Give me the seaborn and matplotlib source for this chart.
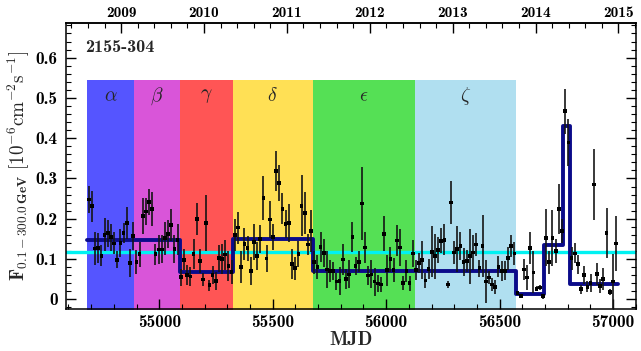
import matplotlib
matplotlib.use('Agg')
import matplotlib.pyplot as plt
import seaborn as sns
import numpy as np
import pandas as pd
from matplotlib.ticker import MultipleLocator, FuncFormatter

# ---------------- data ----------------
mjd = [54689, 54703, 54717, 54731, 54745, 54759, 54773, 54787, 54801, 54815,
       54829, 54843, 54857, 54871, 54885, 54899, 54913, 54927, 54941, 54955,
       54969, 54983, 54997, 55011, 55025, 55039, 55053, 55067, 55081, 55095,
       55109, 55123, 55137, 55151, 55165, 55179, 55193, 55207, 55221, 55235,
       55249, 55263, 55277, 55291, 55305, 55319, 55333, 55347, 55361, 55375,
       55389, 55403, 55417, 55431, 55445, 55459, 55473, 55487, 55501, 55515,
       55529, 55543, 55557, 55571, 55585, 55599, 55613, 55627, 55641, 55655,
       55669, 55683, 55697, 55711, 55725, 55739, 55753, 55767, 55781, 55795,
       55809, 55823, 55837, 55851, 55865, 55879, 55893, 55907, 55921, 55935,
       55949, 55963, 55977, 55991, 56005, 56019, 56033, 56047, 56061, 56075,
       56089, 56103, 56117, 56131, 56145, 56159, 56173, 56187, 56201, 56215,
       56229, 56243, 56257, 56271, 56285, 56299, 56313, 56327, 56341, 56355,
       56369, 56383, 56397, 56411, 56425, 56439, 56453, 56467, 56481, 56495,
       56509, 56523, 56537, 56551, 56565, 56579, 56593, 56607, 56621, 56635,
       56649, 56663, 56677, 56691, 56705, 56719, 56733, 56747, 56761, 56775,
       56789, 56803, 56817, 56831, 56845, 56859, 56873, 56887, 56901, 56915,
       56929, 56943, 56957, 56971, 56985, 56999, 57013]

flux = [0.248, 0.231, 0.126, 0.127, 0.108, 0.160, 0.164, 0.154, 0.139, 0.098,
        0.140, 0.165, 0.190, 0.090, 0.157, 0.092, 0.112, 0.207, 0.218, 0.242,
        0.225, 0.112, 0.124, 0.124, 0.152, 0.163, 0.185, 0.125, 0.148, 0.055,
        0.098, 0.060, 0.057, 0.113, 0.199, 0.095, 0.049, 0.189, 0.035, 0.060,
        0.046, 0.102, 0.100, 0.111, 0.083, 0.068, 0.160, 0.178, 0.080, 0.138,
        0.127, 0.070, 0.143, 0.108, 0.150, 0.251, 0.101, 0.198, 0.154, 0.318,
        0.289, 0.225, 0.187, 0.190, 0.088, 0.077, 0.113, 0.232, 0.215, 0.136,
        0.170, 0.092, 0.081, 0.130, 0.115, 0.074, 0.070, 0.070, 0.044, 0.045,
        0.099, 0.050, 0.062, 0.155, 0.083, 0.093, 0.238, 0.129, 0.059, 0.062,
        0.044, 0.039, 0.037, 0.163, 0.072, 0.100, 0.073, 0.146, 0.129, 0.040,
        0.070, 0.040, 0.114, 0.073, 0.091, 0.098, 0.047, 0.075, 0.118, 0.107,
        0.122, 0.145, 0.148, 0.037, 0.240, 0.116, 0.125, 0.132, 0.092, 0.095,
        0.107, 0.116, 0.136, 0.077, 0.133, 0.044, 0.054, 0.037, 0.031, 0.081,
        0.070, 0.071, 0.102, 0.133, 0.114, 0.016, 0.009, 0.074, 0.054, 0.127,
        0.067, 0.026, 0.029, 0.008, 0.153, 0.092, 0.153, 0.120, 0.224, 0.170,
        0.467, 0.389, 0.102, 0.114, 0.087, 0.025, 0.060, 0.031, 0.040, 0.285,
        0.063, 0.033, 0.050, 0.164, 0.018, 0.044, 0.139]

flux_err = [0.034, 0.039, 0.040, 0.037, 0.026, 0.041, 0.033, 0.033, 0.027, 0.021,
            0.035, 0.025, 0.040, 0.034, 0.034, 0.030, 0.031, 0.045, 0.034, 0.033,
            0.042, 0.026, 0.036, 0.035, 0.041, 0.035, 0.040, 0.035, 0.038, 0.021,
            0.026, 0.025, 0.023, 0.038, 0.039, 0.029, 0.017, 0.069, 0.014, 0.023,
            0.023, 0.033, 0.038, 0.037, 0.037, 0.030, 0.040, 0.040, 0.040, 0.040,
            0.031, 0.035, 0.045, 0.035, 0.035, 0.054, 0.033, 0.045, 0.032, 0.050,
            0.045, 0.039, 0.035, 0.047, 0.037, 0.029, 0.033, 0.076, 0.052, 0.027,
            0.053, 0.029, 0.030, 0.037, 0.035, 0.045, 0.027, 0.023, 0.021, 0.035,
            0.038, 0.025, 0.035, 0.038, 0.023, 0.026, 0.091, 0.038, 0.023, 0.035,
            0.035, 0.021, 0.019, 0.044, 0.039, 0.031, 0.029, 0.039, 0.046, 0.017,
            0.027, 0.019, 0.033, 0.025, 0.025, 0.048, 0.019, 0.025, 0.063, 0.056,
            0.033, 0.031, 0.039, 0.008, 0.054, 0.028, 0.056, 0.034, 0.035, 0.027,
            0.068, 0.043, 0.029, 0.021, 0.077, 0.054, 0.017, 0.017, 0.017, 0.026,
            0.025, 0.024, 0.028, 0.027, 0.029, 0.005, 0.004, 0.026, 0.031, 0.040,
            0.052, 0.006, 0.007, 0.006, 0.071, 0.029, 0.070, 0.031, 0.062, 0.029,
            0.056, 0.058, 0.029, 0.025, 0.023, 0.011, 0.023, 0.014, 0.023, 0.089,
            0.027, 0.017, 0.027, 0.062, 0.008, 0.068, 0.069]

# Bayesian-block style step light curve
step_edges = [54682, 55091, 55323, 55676, 56571, 56696, 56780, 56808, 57020]
step_levels = [0.148, 0.069, 0.151, 0.071, 0.014, 0.135, 0.430, 0.038]

mean_flux = 0.118

period_labels = [r'$\alpha$', r'$\beta$', r'$\gamma$', r'$\delta$', r'$\epsilon$', r'$\zeta$']
period_edges = [54682, 54889, 55091, 55323, 55676, 56126, 56571]
period_colors = ['#5555ff', '#d955d9', '#ff5555', '#ffe055', '#55e055', '#b0dff0']
band_top = 0.545

source_name = '2155-304'

# ---------------- style ----------------
sns.set_style('ticks')
plt.rcParams['font.family'] = ['cmb10', 'DejaVu Serif']
plt.rcParams['mathtext.fontset'] = 'cm'
plt.rcParams['axes.unicode_minus'] = False
plt.rcParams['axes.edgecolor'] = 'black'
plt.rcParams['xtick.color'] = 'black'
plt.rcParams['ytick.color'] = 'black'

fig = plt.figure(figsize=(6.41, 3.51), dpi=100)
ax = fig.add_axes([66 / 641, 1 - 309 / 351, 570 / 641, 286 / 351])

xlo, xhi = 54589, 57101
ylo, yhi = -0.024, 0.686
ax.set_xlim(xlo, xhi)
ax.set_ylim(ylo, yhi)

# coloured periods
for i, lab in enumerate(period_labels):
    x0, x1 = period_edges[i], period_edges[i + 1]
    ax.fill_between([x0, x1], [ylo - 0.05] * 2, [band_top] * 2,
                    color=period_colors[i], lw=0, zorder=0)
    ax.text((x0 + x1) / 2, 0.504, lab, ha='center', va='center',
            fontsize=14, zorder=1)

ax.axhline(mean_flux, color='#00f2f2', lw=2.4, zorder=2)

step_df = pd.DataFrame({'mjd': step_edges, 'flux': step_levels + [step_levels[-1]]})
sns.lineplot(data=step_df, x='mjd', y='flux', drawstyle='steps-post',
             color='#0b0b8a', lw=2.8, estimator=None, sort=False, ax=ax, zorder=3)

ax.errorbar(mjd, flux, yerr=flux_err, fmt='none', ecolor='#151515',
            elinewidth=1.4, alpha=0.85, zorder=4)
pts = pd.DataFrame({'mjd': mjd, 'flux': flux})
sns.scatterplot(data=pts, x='mjd', y='flux', marker='s', s=7, color='black',
                edgecolor='none', ax=ax, zorder=5)

ax.text(54673, 0.624, source_name, ha='left', va='center', fontsize=13)

# ticks
ax.xaxis.set_major_locator(MultipleLocator(500))
ax.xaxis.set_minor_locator(MultipleLocator(100))
ax.yaxis.set_major_locator(MultipleLocator(0.1))
ax.yaxis.set_minor_locator(MultipleLocator(0.02))
ax.yaxis.set_major_formatter(FuncFormatter(lambda v, p: '0' if abs(v) < 1e-9 else f'{v:.1f}'))
ax.xaxis.set_major_formatter(FuncFormatter(lambda v, p: f'{v:.0f}'))
ax.tick_params(which='both', direction='in', top=False, right=True, labelsize=12.5)
ax.tick_params(which='major', length=7, width=1)
ax.tick_params(which='minor', length=3.5, width=0.8)
ax.tick_params(axis='y', pad=6)
ax.tick_params(axis='x', pad=4)
for s in ax.spines.values():
    s.set_linewidth(1.1)
    s.set_color('black')

def mjd2yr(m):
    return 2009.0 + (np.asarray(m) - 54832.0) / 365.25

def yr2mjd(y):
    return 54832.0 + (np.asarray(y) - 2009.0) * 365.25

secax = ax.secondary_xaxis('top', functions=(mjd2yr, yr2mjd))
secax.xaxis.set_major_locator(MultipleLocator(1))
secax.xaxis.set_minor_locator(MultipleLocator(0.2))
secax.xaxis.set_major_formatter(FuncFormatter(lambda v, p: f'{v:.0f}'))
secax.tick_params(which='both', direction='in', labelsize=11, pad=2)
secax.tick_params(which='major', length=7, width=1)
secax.tick_params(which='minor', length=3.5, width=0.8)
secax.spines['top'].set_linewidth(1.1)

ax.set_xlabel('MJD', fontsize=14, labelpad=1)
ax.set_ylabel(r'$\mathbf{F}_{\mathbf{0.1-300.0\,GeV}}\ [10^{-6}\mathrm{cm}^{-2}\mathrm{s}^{-1}]$',
              fontsize=13.8, labelpad=3)

fig.savefig('out.png', dpi=100)
